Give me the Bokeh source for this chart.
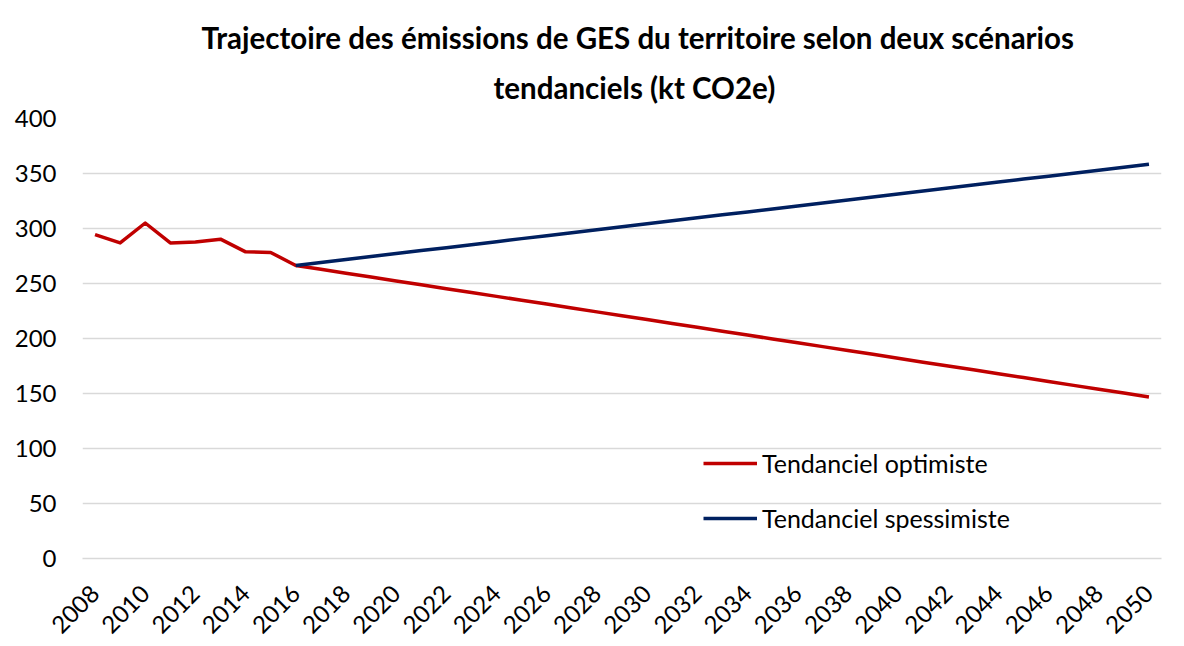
from bokeh.plotting import figure
from bokeh.models import Range1d, FixedTicker, Legend, LegendItem, Title
from bokeh.embed import file_html
from bokeh.resources import INLINE
from math import pi

years = list(range(2008, 2051))
tick_years = [2008, 2010, 2012, 2014, 2016, 2018, 2020, 2022, 2024, 2026, 2028,
              2030, 2032, 2034, 2036, 2038, 2040, 2042, 2044, 2046, 2048, 2050]

optimiste = [294.5, 286.9, 305.0, 286.9, 287.8, 290.3, 278.8, 278.2, 266.4,
             262.9, 259.4, 255.9, 252.3, 248.8, 245.3, 241.8, 238.3, 234.8,
             231.3, 227.7, 224.2, 220.7, 217.2, 213.7, 210.2, 206.6, 203.1,
             199.6, 196.1, 192.6, 189.1, 185.6, 182.0, 178.5, 175.0, 171.5,
             168.0, 164.5, 161.0, 157.4, 153.9, 150.4, 146.9]

pess_years = list(range(2016, 2051))
pessimiste = [266.4, 269.1, 271.8, 274.5, 277.2, 279.9, 282.6, 285.3, 288.0,
              290.8, 293.5, 296.2, 298.9, 301.6, 304.3, 307.0, 309.7, 312.4,
              315.1, 317.8, 320.5, 323.2, 325.9, 328.6, 331.3, 334.0, 336.8,
              339.5, 342.2, 344.9, 347.6, 350.3, 353.0, 355.7, 358.4]

title_1 = "Trajectoire des émissions de GES du territoire selon deux scénarios"
title_2 = "tendanciels (kt CO2e)"
label_opt = "Tendanciel optimiste"
label_pess = "Tendanciel spessimiste"

FONT = "Lato"

p = figure(width=1176, height=646, output_backend="svg", toolbar_location=None,
           x_range=Range1d(2007.5, 2050.5), y_range=Range1d(0, 400),
           min_border_left=82, min_border_right=15, min_border_top=118,
           min_border_bottom=88)
p.title = None
p.outline_line_color = None
p.background_fill_color = "white"
p.border_fill_color = "white"

p.add_layout(Title(text=title_2, align="left", offset=411, text_font=FONT,
                   text_font_size="29.5px", text_font_style="bold",
                   text_color="black", standoff=27), "above")
p.add_layout(Title(text=title_1, align="left", offset=119, text_font=FONT,
                   text_font_size="29.5px", text_font_style="bold",
                   text_color="black", standoff=0), "above")

p.xgrid.grid_line_color = None
p.ygrid.grid_line_color = "#d9d9d9"
p.ygrid.grid_line_width = 1.3
p.yaxis.ticker = FixedTicker(ticks=[0, 50, 100, 150, 200, 250, 300, 350, 400])
p.xaxis.ticker = FixedTicker(ticks=tick_years)
p.xaxis.major_label_orientation = pi / 4

for ax in (p.xaxis[0], p.yaxis[0]):
    ax.major_tick_line_color = None
    ax.minor_tick_line_color = None
    ax.major_label_text_font = FONT
    ax.major_label_text_font_size = "24px"
    ax.major_label_text_color = "black"
p.yaxis.axis_line_color = None
p.yaxis.major_label_standoff = 20
p.xaxis.axis_line_color = "#d9d9d9"
p.xaxis.axis_line_width = 1.3
p.xaxis.major_label_standoff = 25

r_opt = p.line(years, optimiste, line_color="#C00000", line_width=3.5,
               line_join="round")
r_pess = p.line(pess_years, pessimiste, line_color="#002060", line_width=3.5,
                line_join="round")

legend = Legend(items=[LegendItem(label=label_opt, renderers=[r_opt]),
                       LegendItem(label=label_pess, renderers=[r_pess])],
                location=(621, 25), glyph_width=54, glyph_height=30,
                label_height=30, spacing=25, padding=0, margin=0,
                border_line_color=None, background_fill_alpha=0,
                label_text_font=FONT, label_text_font_size="25px",
                label_text_color="black", label_standoff=5)
p.add_layout(legend)

open("out.html", "w").write(file_html(p, INLINE))
